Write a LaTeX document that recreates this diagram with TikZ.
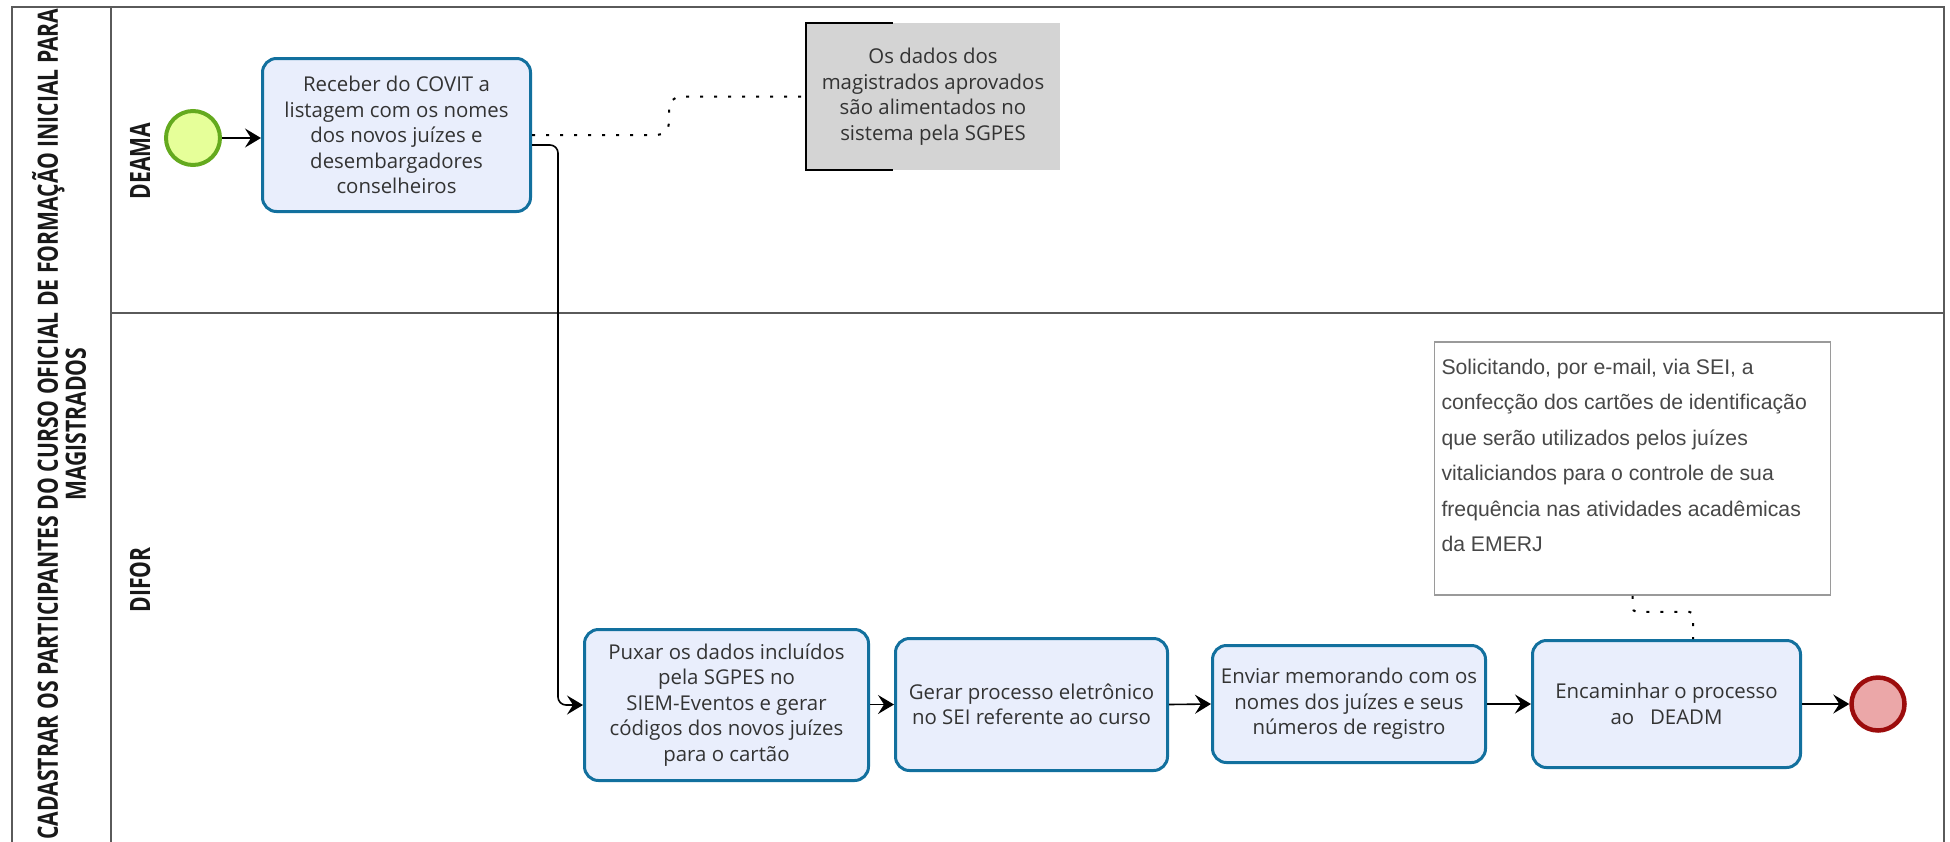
\documentclass[tikz,border=0pt]{standalone}
\usepackage{fontspec}
\setmainfont{Open Sans}
\newfontfamily\titlefont{Open Sans}[FakeStretch=0.755]
\newfontfamily\notefont{Liberation Sans}
\usetikzlibrary{arrows.meta}
\definecolor{poolline}{HTML}{5A5A5A}
\definecolor{taskfill}{HTML}{E9EEFC}
\definecolor{taskline}{HTML}{12709E}
\definecolor{startfill}{HTML}{E6FF99}
\definecolor{startline}{HTML}{64AA1E}
\definecolor{endfill}{HTML}{EBA7A8}
\definecolor{endline}{HTML}{9C0C0C}
\definecolor{notegray}{HTML}{D4D4D4}
\definecolor{noteline}{HTML}{9A9A9A}
\definecolor{txt}{HTML}{333333}
\newcommand{\taskfnt}{\fontsize{20.4}{25.5}\selectfont}
\newcommand{\titlefnt}{\titlefont\bfseries\fontsize{28}{23.5}\selectfont}
\newcommand{\notefnt}{\notefont\fontsize{21.2}{35.5}\selectfont}
\tikzset{
  task/.style={draw=taskline, fill=taskfill, line width=3pt, rounded corners=14pt,
    align=center, text=txt, font=\taskfnt, inner sep=4pt},
  startev/.style={circle, draw=startline, fill=startfill, line width=4pt, minimum size=54pt, inner sep=0pt},
  endev/.style={circle, draw=endline, fill=endfill, line width=4.5pt, minimum size=53pt, inner sep=0pt},
  flow/.style={draw=black, line width=1.6pt, -{Stealth[length=16pt,width=19pt,inset=6pt]}},
  assoc/.style={draw=black, line width=2pt, dash pattern=on 3pt off 11pt},
  lanelabel/.style={rotate=90, text=black!90, font=\titlefnt},
}
\begin{document}
\begin{tikzpicture}[x=1pt,y=-1pt]
\useasboundingbox (0,0) rectangle (1950,841);
% pool and lanes
\draw[poolline, line width=2pt] (12,7) rectangle (1944,843);
\draw[poolline, line width=2pt] (111,7) -- (111,843);
\draw[poolline, line width=2pt] (111,313) -- (1944,313);
\node[rotate=90, align=center, font=\titlefnt, text=black!90] (pooltitle) at (59,424)
  {CADASTRAR OS PARTICIPANTES DO CURSO OFICIAL DE FORMAÇÃO INICIAL PARA\\MAGISTRADOS};
\node[lanelabel] (deama) at (140,161) {DEAMA};
\node[lanelabel] (difor) at (140,580) {DIFOR};

% events and tasks
\node[startev] (s) at (193,138) {};
\node[task, minimum width=268pt, minimum height=153pt] (t1) at (396.5,135)
  {Receber do COVIT a\\listagem com os nomes\\dos novos juízes e\\desembargadores\\conselheiros};
\node[task, minimum width=284pt, minimum height=151pt] (t2) at (726.5,705)
  {Puxar os dados incluídos\\pela SGPES no\\SIEM-Eventos e gerar\\códigos dos novos juízes\\para o cartão};
\node[task, minimum width=272pt, minimum height=132pt] (t3) at (1031.5,704.5)
  {Gerar processo eletrônico\\no SEI referente ao curso};
\node[task, minimum width=273pt, minimum height=117pt] (t4) at (1349,704)
  {Enviar memorando com os\\nomes dos juízes e seus\\números de registro};
\node[task, minimum width=268pt, minimum height=127pt] (t5) at (1666.5,704)
  {Encaminhar o processo\\ao\ \ \ DEADM};
\node[endev] (e) at (1878,704) {};

% annotations
\node[fill=notegray, minimum width=254pt, minimum height=147pt, align=center, text=txt,
  font=\taskfnt, inner sep=0pt] (a1) at (933,96.5)
  {Os dados dos\\magistrados aprovados\\são alimentados no\\sistema pela SGPES};
\draw[black, line width=2pt] ([xshift=87pt]a1.north west) -- (a1.north west) -- (a1.south west) -- ([xshift=87pt]a1.south west);
\node[draw=noteline, line width=1.5pt, fill=white, inner sep=7pt, text=black!72] (a2) at (1632.5,468.5)
  {\parbox[c][239pt][t]{382pt}{\notefnt\raggedright\vspace*{10pt}%
   Solicitando, por e-mail, via SEI, a\\
   confecção dos cartões de identificação\\
   que serão utilizados pelos juízes\\
   vitaliciandos para o controle de sua\\
   frequência nas atividades acadêmicas\\
   da EMERJ}};

% connectors
\draw[flow] (s.east) -- (t1.west |- s.east);
\draw[flow, rounded corners=8pt] ([yshift=-10pt]t1.east) -| ([xshift=-25pt]t2.west) -- (t2.west);
\draw[flow] (t2.east |- t3.west) -- (t3.west);
\draw[flow] (t3.east) -- (t4.west);
\draw[flow] (t4.east) -- (t5.west);
\draw[flow] (t5.east) -- (e.west);
\draw[assoc, rounded corners=12pt] (t1.east) -- ++(137,0) |- (a1.west);
\draw[assoc, rounded corners=4pt] (a2.south) -- ++(0,16) -| ([xshift=26.5pt]t5.north);
\end{tikzpicture}
\end{document}
